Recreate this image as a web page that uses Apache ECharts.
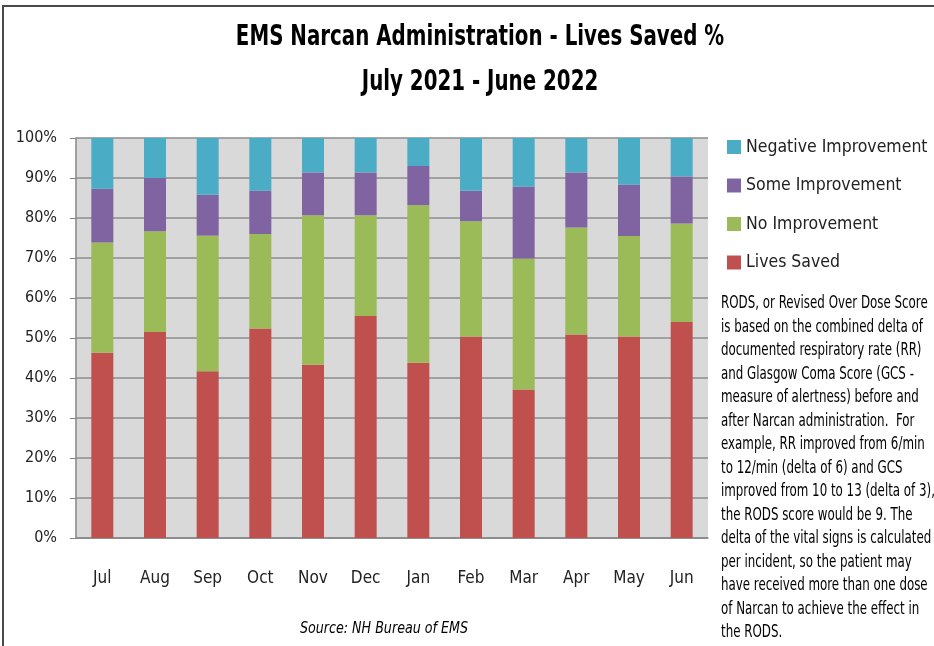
<!DOCTYPE html>
<html>
<head>
<meta charset="utf-8">
<script src="https://cdn.jsdelivr.net/npm/echarts@6/dist/echarts.min.js"></script>
<style>
  html, body { margin: 0; padding: 0; background: #fff; }
  #chart { width: 934px; height: 646px; }
</style>
</head>
<body>
<div id="chart"></div>
<script>
// data (percent of each month's administrations)
const months = ['Jul', 'Aug', 'Sep', 'Oct', 'Nov', 'Dec', 'Jan', 'Feb', 'Mar', 'Apr', 'May', 'Jun']
const livesSaved = [46.3, 51.5, 41.7, 52.4, 43.3, 55.5, 43.8, 50.4, 37.1, 50.9, 50.4, 54.0]
const noImprovement = [27.6, 25.2, 33.9, 23.6, 37.4, 25.2, 39.4, 28.8, 32.8, 26.7, 25.1, 24.6]
const someImprovement = [13.4, 13.3, 10.2, 10.8, 10.7, 10.7, 9.8, 7.6, 17.9, 13.8, 12.8, 11.8]
const negativeImprovement = [12.7, 10.0, 14.2, 13.2, 8.6, 8.6, 7.0, 13.2, 12.2, 8.6, 11.7, 9.6]

const font = '"DejaVu Sans Condensed", "DejaVu Sans", sans-serif'

const note = [
  'RODS, or Revised Over Dose Score',
  'is based on the combined delta of',
  'documented respiratory rate (RR)',
  'and Glasgow Coma Score (GCS -',
  'measure of alertness) before and',
  'after Narcan administration.  For',
  'example, RR improved from 6/min',
  'to 12/min (delta of 6) and GCS',
  'improved from 10 to 13 (delta of 3),',
  'the RODS score would be 9. The',
  'delta of the vital signs is calculated',
  'per incident, so the patient may',
  'have received more than one dose',
  'of Narcan to achieve the effect in',
  'the RODS.'
]

const chart = echarts.init(document.getElementById('chart'))

function bar (name, data, color) {
  return {
    name: name,
    type: 'bar',
    stack: 'all',
    data: data,
    barWidth: 22,
    itemStyle: { color: color },
    emphasis: { disabled: true }
  }
}

// the source image is squeezed sideways, so the free texts get a scaleX
function label (text, x, y, font, scaleX) {
  return {
    type: 'text',
    x: x,
    y: y,
    scaleX: scaleX,
    style: {
      text: text,
      font: font,
      fill: '#000',
      textAlign: 'center',
      textVerticalAlign: 'middle'
    }
  }
}

chart.setOption({
  animation: false,
  textStyle: { fontFamily: font },
  grid: {
    left: 76,
    right: 226,
    top: 138,
    bottom: 108,
    show: true,
    backgroundColor: '#d9d9d9',
    borderWidth: 0
  },
  legend: {
    orient: 'vertical',
    left: 727,
    top: 137,
    padding: 0,
    icon: 'rect',
    itemWidth: 14,
    itemHeight: 14,
    itemGap: 18.5,
    selectedMode: false,
    data: ['Negative Improvement', 'Some Improvement', 'No Improvement', 'Lives Saved'],
    textStyle: { fontFamily: font, fontSize: 17.5, lineHeight: 20, color: '#222' }
  },
  xAxis: {
    type: 'category',
    data: months,
    axisLine: { lineStyle: { color: '#868686', width: 1.5 } },
    axisTick: { length: 8, lineStyle: { color: '#868686' } },
    axisLabel: { color: '#222', fontSize: 17, margin: 32, fontFamily: font }
  },
  yAxis: {
    type: 'value',
    min: 0,
    max: 100,
    interval: 10,
    axisLine: { show: true, lineStyle: { color: '#868686', width: 1.5 } },
    axisTick: { show: true, length: 6, lineStyle: { color: '#868686' } },
    axisLabel: { formatter: '{value}%', color: '#222', fontSize: 16, margin: 19, fontFamily: font },
    splitLine: { lineStyle: { color: '#8c8c8c', width: 1.5 } }
  },
  series: [
    bar('Lives Saved', livesSaved, '#c0504d'),
    bar('No Improvement', noImprovement, '#9bbb59'),
    bar('Some Improvement', someImprovement, '#8064a2'),
    bar('Negative Improvement', negativeImprovement, '#4bacc6')
  ],
  graphic: [
    {
      type: 'polyline',
      shape: { points: [[3, 646], [3, 6], [934, 6]] },
      style: { stroke: '#4a4a4a', lineWidth: 2, fill: null }
    },
    label('EMS Narcan Administration - Lives Saved %', 480, 37, 'bold 29px ' + font, 0.76),
    label('July 2021 - June 2022', 480, 82, 'bold 29px ' + font, 0.76),
    label('Source: NH Bureau of EMS', 384, 629, 'italic 15px ' + font, 0.94),
    {
      type: 'text',
      x: 721,
      y: 292,
      scaleX: 0.775,
      style: {
        text: note.join('\n'),
        font: '17px ' + font,
        lineHeight: 23.5,
        fill: '#000',
        textAlign: 'left'
      }
    }
  ]
})
</script>
</body>
</html>
